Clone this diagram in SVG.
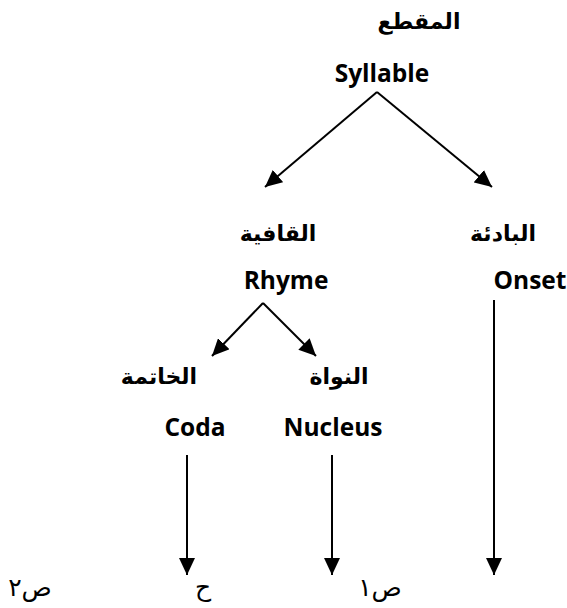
<svg xmlns="http://www.w3.org/2000/svg" width="567" height="608" viewBox="0 0 567 608">
<style>
.en{font-family:"Open Sans","Liberation Sans",sans-serif;font-weight:700;font-size:24.5px;fill:#000;text-anchor:middle}
.ar{font-family:"DejaVu Sans",sans-serif;font-weight:700;font-size:22px;fill:#000;text-anchor:middle}
.arr{font-family:"DejaVu Sans",sans-serif;font-weight:400;font-size:25px;fill:#000;text-anchor:middle}
.c{stroke:#000;stroke-width:2;fill:none;marker-end:url(#ah)}
</style>
<defs>
<marker id="ah" markerUnits="userSpaceOnUse" markerWidth="17" markerHeight="16" viewBox="0 0 17 16" refX="17" refY="8" orient="auto">
<path d="M0,0 L17,8 L0,16 Z" fill="#000"/>
</marker>
</defs>
<rect width="567" height="608" fill="#fff"/>
<g id="syllable"><text class="ar" x="419" y="29">المقطع</text><text class="en" x="382" y="82">Syllable</text></g>
<g id="rhyme"><text class="ar" x="278" y="241">القافية</text><text class="en" x="286" y="289">Rhyme</text></g>
<g id="onset"><text class="ar" x="503" y="241">البادئة</text><text class="en" x="530" y="289">Onset</text></g>
<g id="coda"><text class="ar" x="159" y="384">الخاتمة</text><text class="en" x="195" y="436">Coda</text></g>
<g id="nucleus"><text class="ar" x="339" y="384">النواة</text><text class="en" x="333" y="436">Nucleus</text></g>
<g id="c2"><text class="arr" x="30" y="596">ص٢</text></g>
<g id="v"><text class="arr" x="203" y="596">ح</text></g>
<g id="c1"><text class="arr" x="380" y="596">ص١</text></g>
<g id="connectors">
<path class="c" d="M377,92 L265,187"/>
<path class="c" d="M377,92 L492,187"/>
<path class="c" d="M263,303 L212,356"/>
<path class="c" d="M263,303 L316,356"/>
<path class="c" d="M187,455 L187,575"/>
<path class="c" d="M332,455 L332,575"/>
<path class="c" d="M494,300 L494,575"/>
</g>
</svg>
